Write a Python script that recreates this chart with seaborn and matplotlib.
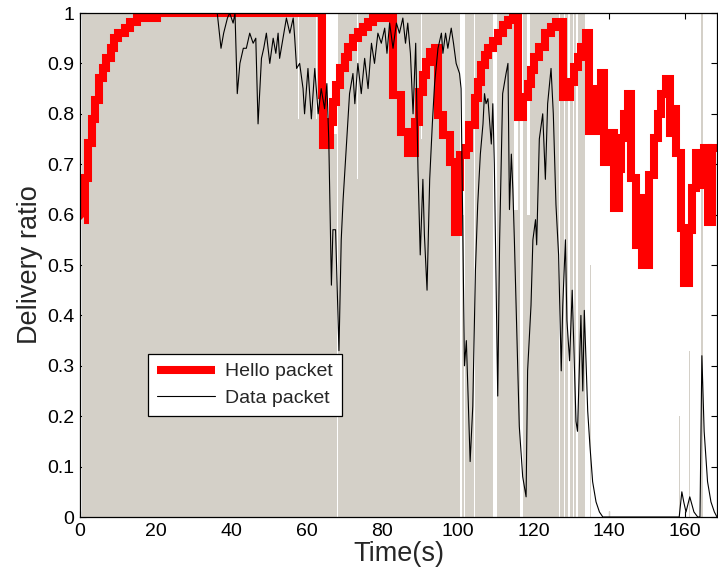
import numpy as np
import pandas as pd
import matplotlib
matplotlib.use("Agg")
import matplotlib.pyplot as plt
import seaborn as sns

# ---------------- data ----------------
# Hello packet delivery ratio (step changes, held until next point)
hello_t = [1.0, 1.3, 2.2, 3.3, 4.1, 5.0, 6.1, 7.0, 8.1, 9.0, 10.1, 11.9, 13.2, 15.0, 20.3,
           63.9, 64.3, 66.0, 66.9, 67.8, 68.7, 70.0, 70.9, 72.2, 73.5, 74.8, 76.2, 77.5,
           82.7, 85.0, 86.7, 88.5, 89.8, 90.7, 91.6, 92.5, 93.8, 94.7, 96.0, 97.8, 99.1,
           99.9, 100.4, 102.2, 103.0, 104.4, 105.3, 106.2, 107.1, 108.0, 109.2, 110.5,
           111.8, 113.2, 114.5, 115.8, 117.1, 118.4, 119.3, 120.2, 121.5, 122.9, 124.6,
           125.9, 127.7, 129.5, 130.8, 131.7, 132.5, 133.9, 134.7, 136.5, 137.8, 138.7,
           140.5, 141.3, 142.6, 143.1, 144.0, 145.0, 145.7, 147.1, 148.4, 148.7, 150.6,
           151.9, 152.8, 153.7, 155.0, 156.0, 157.2, 157.7, 158.9, 159.9, 161.2, 162.0,
           162.9, 164.3, 165.1, 166.0, 167.3, 168.5]
hello_v = [0.59, 0.673, 0.742, 0.79, 0.827, 0.871, 0.891, 0.911, 0.93, 0.95, 0.96, 0.97, 0.982, 0.99, 1.0,
           0.837, 0.738, 0.784, 0.824, 0.857, 0.89, 0.913, 0.933, 0.95, 0.963, 0.973, 0.983, 0.99,
           0.837, 0.764, 0.722, 0.784, 0.843, 0.877, 0.903, 0.923, 0.93, 0.797, 0.758, 0.704, 0.566,
           0.655, 0.718, 0.732, 0.778, 0.831, 0.863, 0.897, 0.917, 0.93, 0.945, 0.96,
           0.976, 0.986, 0.99, 0.794, 0.834, 0.86, 0.887, 0.913, 0.933, 0.96, 0.973,
           0.983, 0.834, 0.864, 0.893, 0.913, 0.933, 0.96, 0.765, 0.85, 0.88, 0.705,
           0.762, 0.613, 0.69, 0.752, 0.80, 0.84, 0.673, 0.54, 0.633, 0.50, 0.679,
           0.752, 0.80, 0.84, 0.87, 0.762, 0.81, 0.722, 0.573, 0.464, 0.569, 0.653,
           0.722, 0.659, 0.732, 0.585, 0.732, 0.732]

# Data packet delivery ratio
data_t = [0.5, 36.3, 37.3, 38.0, 39.0, 39.6, 40.5, 41.0, 41.6, 42.3, 43.2, 44.0, 44.9, 45.8,
          46.5, 47.1, 48.0, 48.6, 49.3, 50.2, 51.1, 51.8, 52.4, 52.8, 53.7, 54.6, 55.5,
          56.4, 56.8, 57.3, 58.1, 59.0, 59.4, 60.3, 61.2, 62.1, 63.0, 63.8, 64.7, 65.3,
          65.8, 66.5, 66.9, 67.6, 68.5, 69.1, 69.6, 70.5, 71.3, 72.2, 72.7, 73.5, 74.4,
          75.3, 76.2, 77.1, 77.9, 78.8, 79.7, 80.6, 81.2, 81.9, 82.8, 83.7, 84.5, 85.4,
          86.1, 86.7, 87.4, 88.1, 88.8, 89.4, 90.0, 90.7, 91.1, 91.8, 92.5, 93.2, 93.8,
          94.7, 95.6, 96.0, 96.7, 97.3, 98.2, 98.8, 99.5, 100.4, 100.8, 101.7, 102.2,
          103.2, 103.9, 104.6, 105.2, 105.9, 106.6, 107.0, 107.4, 107.9, 108.8, 109.2,
          109.6, 110.5, 111.0, 111.8, 112.7, 113.2, 113.6, 114.1, 114.5, 114.9, 115.4,
          116.2, 117.1, 118.0, 118.4, 119.3, 119.8, 120.5, 120.8, 121.5, 122.4, 123.1,
          123.7, 124.6, 125.2, 125.9, 126.6, 127.3, 127.7, 128.4, 128.8, 129.5, 130.2,
          131.2, 131.6, 132.5, 133.0, 133.4, 134.3, 134.9, 135.6, 136.5, 137.4, 138.3,
          158.5, 159.2, 159.7, 160.3, 161.3, 162.4, 163.4, 164.0, 164.5, 165.1, 166.0,
          166.9, 167.8, 168.5]
data_v = [1.0, 1.0, 0.93, 0.96, 0.99, 1.0, 0.98, 1.0, 0.84, 0.90, 0.93, 0.93, 0.96, 0.94,
          0.95, 0.78, 0.91, 0.93, 0.96, 0.90, 0.95, 0.92, 0.96, 0.91, 0.95, 0.99, 0.96,
          0.99, 0.95, 0.89, 0.90, 0.85, 0.80, 0.89, 0.79, 0.89, 0.80, 0.85, 0.81, 0.86,
          0.75, 0.46, 0.57, 0.57, 0.33, 0.55, 0.63, 0.74, 0.84, 0.88, 0.82, 0.90, 0.84,
          0.91, 0.85, 0.94, 0.90, 0.96, 0.94, 0.97, 0.92, 0.98, 0.93, 0.98, 0.96, 0.99,
          0.94, 0.98, 0.92, 0.80, 0.94, 0.69, 0.52, 0.67, 0.56, 0.45, 0.67, 0.78, 0.86,
          0.93, 0.96, 0.92, 0.96, 0.93, 0.97, 0.94, 0.90, 0.88, 0.85, 0.30, 0.35,
          0.11, 0.22, 0.49, 0.62, 0.72, 0.78, 0.84, 0.82, 0.83, 0.74, 0.82,
          0.70, 0.24, 0.55, 0.84, 0.88, 0.90, 0.61, 0.72, 0.65, 0.55, 0.41,
          0.18, 0.08, 0.04, 0.29, 0.42, 0.55, 0.59, 0.54, 0.75, 0.80, 0.67,
          0.82, 0.89, 0.80, 0.62, 0.52, 0.29, 0.42, 0.55, 0.39, 0.31, 0.45,
          0.19, 0.17, 0.40, 0.25, 0.41, 0.21, 0.14, 0.07, 0.03, 0.01, 0.0,
          0.0, 0.05, 0.03, 0.01, 0.04, 0.01, 0.0, 0.0, 0.32, 0.17, 0.07,
          0.03, 0.01, 0.0]

# Shaded (connected) periods: start, end, height
shade_start = [0.5, 57.6, 57.9, 62.4, 62.7, 65.0, 67.9, 68.3, 73.2, 73.5, 90.2, 90.5,
               101.0, 101.8, 104.5, 110.3, 114.9, 115.8, 117.3, 118.2, 119.0, 127.0,
               128.3, 129.6, 130.7, 131.8, 134.8, 139.9, 158.4, 158.9, 161.2, 164.2]
shade_end = [57.6, 57.9, 62.4, 62.7, 65.0, 67.9, 68.1, 73.2, 73.5, 90.2, 90.5, 100.6,
             101.5, 104.2, 109.3, 114.9, 115.8, 116.5, 118.2, 119.0, 126.6, 128.0,
             129.0, 130.3, 131.1, 133.5, 135.1, 140.1, 158.6, 159.1, 161.4, 164.7]
shade_h = [1.0, 0.79, 1.0, 0.79, 1.0, 0.76, 1.0, 1.0, 0.67, 1.0, 0.75, 1.0,
           0.6, 1.0, 1.0, 1.0, 0.61, 1.0, 1.0, 0.6, 1.0, 1.0,
           1.0, 1.0, 1.0, 1.0, 0.5, 0.012, 0.2, 0.4, 0.33, 1.0]

x_ticks = [0, 20, 40, 60, 80, 100, 120, 140, 160]
y_ticks = [0, 0.1, 0.2, 0.3, 0.4, 0.5, 0.6, 0.7, 0.8, 0.9, 1]
y_tick_labels = ["0", "0.1", "0.2", "0.3", "0.4", "0.5", "0.6", "0.7", "0.8", "0.9", "1"]

# ---------------- plot ----------------
sns.set_style("ticks")
plt.rcParams["font.family"] = ["Liberation Sans", "DejaVu Sans"]

fig = plt.figure(figsize=(7.18, 5.82), dpi=100)
ax = fig.add_axes([80 / 718, 65 / 582, 637 / 718, 504 / 582])

shade_df = pd.DataFrame({"start": shade_start, "end": shade_end, "h": shade_h})
ax.bar(shade_df["start"], shade_df["h"], width=shade_df["end"] - shade_df["start"],
       align="edge", color="#D4D0C8", linewidth=0, zorder=1)

hello_df = pd.DataFrame({"t": hello_t, "v": hello_v})
data_df = pd.DataFrame({"t": data_t, "v": data_v})

sns.lineplot(data=hello_df, x="t", y="v", ax=ax, color="#FF0000", linewidth=5.8,
             drawstyle="steps-post", estimator=None, sort=False, zorder=3,
             label="Hello packet", solid_joinstyle="miter", solid_capstyle="butt")
sns.lineplot(data=data_df, x="t", y="v", ax=ax, color="black", linewidth=0.8,
             estimator=None, sort=False, zorder=4, label="Data packet")

ax.set_xlim(0, 168.5)
ax.set_ylim(0, 1)
ax.set_xticks(x_ticks)
ax.set_xticklabels([str(t) for t in x_ticks])
ax.set_yticks(y_ticks)
ax.set_yticklabels(y_tick_labels)
ax.tick_params(direction="in", length=4, width=0.8, top=True, right=True,
               labelsize=14, pad=4, colors="black")
for s in ax.spines.values():
    s.set_visible(True)
    s.set_linewidth(0.9)
    s.set_color("black")
    s.set_zorder(6)

ax.set_xlabel("Time(s)", fontsize=19.5, labelpad=1)
ax.set_ylabel("Delivery ratio", fontsize=19.5, labelpad=3)

leg = ax.legend(loc="lower left", bbox_to_anchor=(0.106, 0.2), fontsize=14,
                frameon=True, fancybox=False, edgecolor="black", framealpha=1,
                handlelength=3.0, borderpad=0.47, labelspacing=0.47, handletextpad=0.5,
                borderaxespad=0)
leg.get_frame().set_linewidth(0.9)
leg.set_zorder(10)

fig.savefig("out.png", dpi=100)
